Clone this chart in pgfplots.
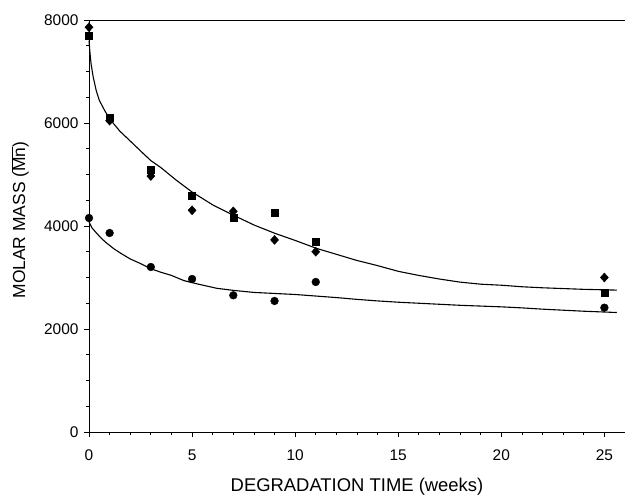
\documentclass[border=0pt]{standalone}
\usepackage{pgfplots}
\pgfplotsset{compat=1.18}
\usepackage{fontspec}
\setmainfont{Liberation Sans}
\begin{document}
\begin{tikzpicture}
\begin{axis}[
  name=ax,
  scale only axis,
  width=536bp, height=412bp,
  xmin=0, xmax=26, ymin=0, ymax=8000,
  xtick={0,5,10,15,20,25},
  ytick={0,2000,4000,6000,8000},
  minor xtick={1,2,3,4,6,7,8,9,11,12,13,14,16,17,18,19,21,22,23,24,26},
  minor ytick={500,1000,1500,2500,3000,3500,4500,5000,5500,6500,7000,7500},
  xtick pos=bottom, ytick pos=left,
  tick align=outside,
  major tick length=5bp, minor tick length=3bp,
  every tick/.style={black, line width=0.8pt},
  axis line style={line width=0.9pt},
  /pgf/number format/assume math mode=true,
  /pgf/number format/1000 sep={},
  scaled y ticks=false,
  tick label style={font=\fontsize{15.5}{17}\selectfont},
  xticklabel style={yshift=-9bp},
  yticklabel style={xshift=-2bp},
  xlabel={DEGRADATION TIME (weeks)},
  ylabel={MOLAR MASS ($\overline{\hbox{Mn}}$)},
  xlabel style={font=\fontsize{18.5}{21}\selectfont, at={(axis description cs:0.5,0)}, anchor=center, yshift=-55bp},
  ylabel style={font=\fontsize{17.5}{20}\selectfont, at={(axis description cs:0,0.5)}, anchor=center, yshift=69bp, xshift=6bp},
  clip=false,
]
% fitted curves
\addplot[black, line width=1.1pt, no marks] coordinates {
(0.00,7600) (0.05,7350) (0.10,7150) (0.20,6900) (0.35,6630) (0.50,6440) (0.75,6250)
(1.0,6080) (1.5,5840) (2.0,5650) (2.6,5420) (3.0,5270) (3.5,5130)
(4.2,4900) (5.0,4660) (6.0,4410) (7.0,4210) (8.0,4020) (9.0,3860)
(10.0,3720) (11.0,3570) (12.0,3450) (13.0,3330) (14.0,3230) (15.0,3120)
(16.0,3040) (17.0,2970) (18.0,2910) (19.0,2870) (20.0,2850) (21.0,2820)
(22.0,2800) (23.0,2785) (24.0,2770) (25.6,2755)
};
\addplot[black, line width=1.1pt, no marks] coordinates {
(0.00,4080) (0.15,3960) (0.37,3860) (0.60,3760) (0.85,3670) (1.2,3560)
(1.5,3480) (2.0,3360) (2.5,3270) (3.0,3170) (3.5,3100) (4.0,3040)
(4.6,2940) (5.2,2880) (6.2,2790) (7.0,2750) (8.0,2710) (9.0,2690)
(10.0,2670) (11.0,2640) (12.0,2610) (13.0,2575) (14.0,2545) (15.0,2520)
(16.0,2500) (17.0,2480) (18.0,2460) (19.0,2445) (20.0,2430) (21.0,2410)
(22.0,2385) (23.0,2365) (24.0,2345) (25.6,2320)
};
% diamonds
\addplot[only marks, mark=diamond*, mark size=4.5bp, mark options={xscale=1.2}, black] coordinates {
(0,7860) (1,6045) (3,4970) (5,4305) (7,4285) (9,3730) (11,3500) (25,3000)
};
% squares
\addplot[only marks, mark=square*, mark size=3.6bp, black] coordinates {
(0,7700) (1,6110) (3,5090) (5,4590) (7,4160) (9,4255) (11,3690) (25,2705)
};
% circles
\addplot[only marks, mark=*, mark size=3.9bp, black] coordinates {
(0,4155) (1,3864) (3,3204) (5,2971) (7,2654) (9,2544) (11,2913) (25,2414)
};
\end{axis}
\pgfresetboundingbox
\path ([xshift=-89bp,yshift=-65bp]ax.south west) rectangle ([yshift=20bp]ax.north east);
\end{tikzpicture}
\end{document}
